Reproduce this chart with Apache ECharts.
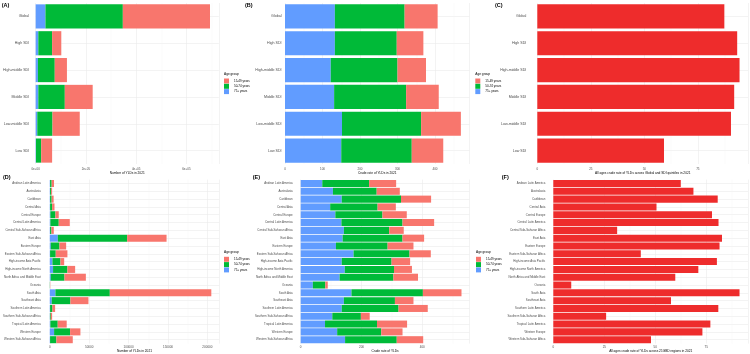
<!DOCTYPE html>
<html>
<head>
<meta charset="utf-8">
<title>YLDs by age group, SDI quintile and GBD region, 2021</title>
<script src="https://cdn.jsdelivr.net/npm/echarts@6.0.0/dist/echarts.min.js"></script>
<style>
  html, body { margin: 0; padding: 0; background: #fff; }
  #chart { width: 750px; height: 354px; }
</style>
</head>
<body>
<div id="chart"></div>
<script>
// age groups, legend order (top to bottom)
const ageGroups = ['15-49 years', '50-74 years', '75+ years'];

// Global + SDI quintiles
const sdiNames = ['Global', 'High SDI', 'High-middle SDI', 'Middle SDI', 'Low-middle SDI', 'Low SDI'];
const sdiCount15to49 = [347000, 36500, 48500, 111000, 108500, 43500];
const sdiCount50to74 = [308000, 55000, 67000, 105500, 60500, 20700];
const sdiCount75plus = [39000, 10500, 9000, 10500, 6500, 1300];
const sdiRate15to49 = [88, 71, 76, 87, 106, 84];
const sdiRate50to74 = [186, 165, 178, 192, 211, 188];
const sdiRate75plus = [133, 133, 122, 131, 152, 150];
const sdiAllAgesRate = [87.4, 93.4, 94.5, 92.0, 90.5, 59.2];

// 21 GBD regions
const regionNames = [
  'Andean Latin America', 'Australasia', 'Caribbean', 'Central Asia', 'Central Europe',
  'Central Latin America', 'Central Sub-Saharan Africa', 'East Asia', 'Eastern Europe',
  'Eastern Sub-Saharan Africa', 'High-income Asia Pacific', 'High-income North America',
  'North Africa and Middle East', 'Oceania', 'South Asia', 'Southeast Asia',
  'Southern Latin America', 'Southern Sub-Saharan Africa', 'Tropical Latin America',
  'Western Europe', 'Western Sub-Saharan Africa'
];
const regionCount15to49 = [3000, 1300, 2500, 3000, 4200, 14000, 3000, 50000, 8500, 14800, 4700, 9800, 27100, 300, 128800, 22900, 3400, 1700, 11400, 13100, 20800];
const regionCount50to74 = [2000, 1300, 2000, 2600, 6400, 10600, 1700, 88000, 11000, 7200, 10200, 18200, 17400, 200, 69000, 23700, 3000, 1100, 9300, 20300, 8000];
const regionCount75plus = [400, 400, 400, 400, 800, 800, 400, 10200, 1300, 400, 3400, 4200, 1300, 50, 7200, 2500, 400, 200, 800, 5500, 400];
const regionRate15to49 = [89, 76, 99, 60, 80, 104, 48, 71, 85, 70, 61, 59, 81, 8, 127, 61, 96, 29, 99, 70, 87];
const regionRate50to74 = [154, 144, 195, 156, 155, 201, 149, 197, 170, 184, 164, 162, 177, 41, 235, 168, 187, 94, 171, 145, 170];
const regionRate75plus = [71, 106, 135, 97, 114, 134, 142, 138, 116, 174, 135, 145, 128, 40, 167, 142, 135, 104, 80, 120, 146];
const regionAllAgesRate = [62.5, 68.7, 80.6, 50.6, 77.8, 81.0, 31.3, 82.7, 81.5, 42.9, 80.2, 71.1, 59.8, 8.8, 91.3, 57.7, 80.9, 25.9, 77.0, 73.1, 47.9];

const FONT = '"Liberation Sans", Arial, sans-serif';
const AGE_COLORS = { '15-49 years': '#F8766D', '50-74 years': '#00BA38', '75+ years': '#619CFF' };
const SINGLE_COLOR = '#EE2C2C';
const GRID_COLOR = '#ebebeb';

function sci(v) {
  if (v === 0) return '0e+00';
  const e = Math.floor(Math.log10(v));
  const m = Math.round(v / Math.pow(10, e));
  return m + 'e+' + String(e).padStart(2, '0');
}

function valueAxis(gridIndex, max, interval, name, margin, nameGap, formatter) {
  return {
    type: 'value', gridIndex: gridIndex, min: 0, max: max, interval: interval,
    name: name, nameLocation: 'middle', nameGap: nameGap,
    nameTextStyle: { fontSize: 3.2, color: '#000', fontFamily: FONT },
    axisLine: { show: false },
    axisTick: { show: false },
    axisLabel: { fontSize: 3, color: '#4d4d4d', fontFamily: FONT, margin: margin, showMaxLabel: false, formatter: formatter },
    splitLine: { show: true, lineStyle: { color: GRID_COLOR, width: 0.6 } },
    minorTick: { show: false, splitNumber: 2 },
    minorSplitLine: { show: true, lineStyle: { color: '#f3f3f3', width: 0.4 } }
  };
}

function catAxis(gridIndex, data, fontSize, margin) {
  return {
    type: 'category', gridIndex: gridIndex, data: data, inverse: true,
    axisLine: { show: false },
    axisTick: { show: false },
    axisLabel: { fontSize: fontSize, color: '#4d4d4d', fontFamily: FONT, margin: margin, interval: 0 },
    splitLine: { show: true, alignWithLabel: true, lineStyle: { color: GRID_COLOR, width: 0.6 } }
  };
}

function stacked(idx, v15, v50, v75) {
  // blue (75+) sits at the left, 15-49 at the right end
  const parts = [['75+ years', v75], ['50-74 years', v50], ['15-49 years', v15]];
  return parts.map(function (p) {
    return {
      name: p[0], type: 'bar', stack: 'stack' + idx,
      xAxisIndex: idx, yAxisIndex: idx,
      barCategoryGap: '10%',
      itemStyle: { color: AGE_COLORS[p[0]] },
      data: p[1]
    };
  });
}

function single(idx, values) {
  return {
    name: 'All ages', type: 'bar', xAxisIndex: idx, yAxisIndex: idx,
    barCategoryGap: '10%',
    itemStyle: { color: SINGLE_COLOR },
    data: values
  };
}

function ageLegend(left, top) {
  return {
    data: ageGroups, orient: 'vertical', left: left, top: top,
    itemWidth: 5, itemHeight: 5, itemGap: 0.3, padding: 0, icon: 'rect',
    selectedMode: false,
    textStyle: { fontSize: 3, color: '#000', fontFamily: FONT }
  };
}

function label(text, x, y, size, bold) {
  return {
    type: 'text', left: x, top: y, silent: true,
    style: { text: text, fontSize: size, fontWeight: bold ? 'bold' : 'normal', fill: '#000', fontFamily: FONT }
  };
}

const TOP = 3, TOP_H = 161;
const BOT = 179.6, BOT_H = 164.8;

const option = {
  animation: false,
  backgroundColor: '#fff',
  grid: [
    { left: 33.3, top: TOP, width: 185.5, height: TOP_H },
    { left: 285, top: TOP, width: 184.5, height: TOP_H },
    { left: 537.3, top: TOP, width: 210.8, height: TOP_H },
    { left: 49.3, top: BOT, width: 169.9, height: BOT_H },
    { left: 300.7, top: BOT, width: 168.7, height: BOT_H },
    { left: 553.3, top: BOT, width: 194.8, height: BOT_H }
  ],
  xAxis: [
    valueAxis(0, 729000, 200000, 'Number of YLDs in 2021', 3.8, 8, sci),
    valueAxis(1, 492, 100, 'Crude rate of YLDs in 2021', 3.8, 8),
    valueAxis(2, 98.5, 25, 'All ages crude rate of YLDs across Global and SDI quintiles in 2021', 3.8, 8),
    valueAxis(3, 215000, 50000, 'Number of YLDs in 2021', 2.5, 6, function (v) { return String(v); }),
    valueAxis(4, 555, 200, 'Crude rate of YLDs', 2.5, 6),
    valueAxis(5, 95.5, 25, 'All ages crude rate of YLDs across 21GBD regions in 2021', 2.5, 6)
  ],
  yAxis: [
    catAxis(0, sdiNames, 3.6, 6.5),
    catAxis(1, sdiNames, 3.6, 3.5),
    catAxis(2, sdiNames, 3.6, 11),
    catAxis(3, regionNames, 2.9, 9),
    catAxis(4, regionNames, 2.9, 8),
    catAxis(5, regionNames, 2.9, 8)
  ],
  legend: [
    ageLegend(224, 78.5),
    ageLegend(475.3, 78.5),
    ageLegend(224, 256.8),
    ageLegend(476, 256.8)
  ],
  graphic: [
    label('(A)', 1.7, 2.5, 5.5, true),
    label('(B)', 245, 2.5, 5.5, true),
    label('(C)', 495, 2.5, 5.5, true),
    label('(D)', 3, 174.3, 5.5, true),
    label('(E)', 252.7, 174.5, 5.5, true),
    label('(F)', 501.7, 174.5, 5.5, true),
    label('Age group', 224, 72.3, 3.2, false),
    label('Age group', 475.3, 72.3, 3.2, false),
    label('Age group', 224, 250.7, 3.2, false),
    label('Age group', 476, 250.7, 3.2, false)
  ],
  series: [].concat(
    stacked(0, sdiCount15to49, sdiCount50to74, sdiCount75plus),
    stacked(1, sdiRate15to49, sdiRate50to74, sdiRate75plus),
    [single(2, sdiAllAgesRate)],
    stacked(3, regionCount15to49, regionCount50to74, regionCount75plus),
    stacked(4, regionRate15to49, regionRate50to74, regionRate75plus),
    [single(5, regionAllAgesRate)]
  )
};

const chart = echarts.init(document.getElementById('chart'), null, { renderer: 'canvas' });
chart.setOption(option);
</script>
</body>
</html>
